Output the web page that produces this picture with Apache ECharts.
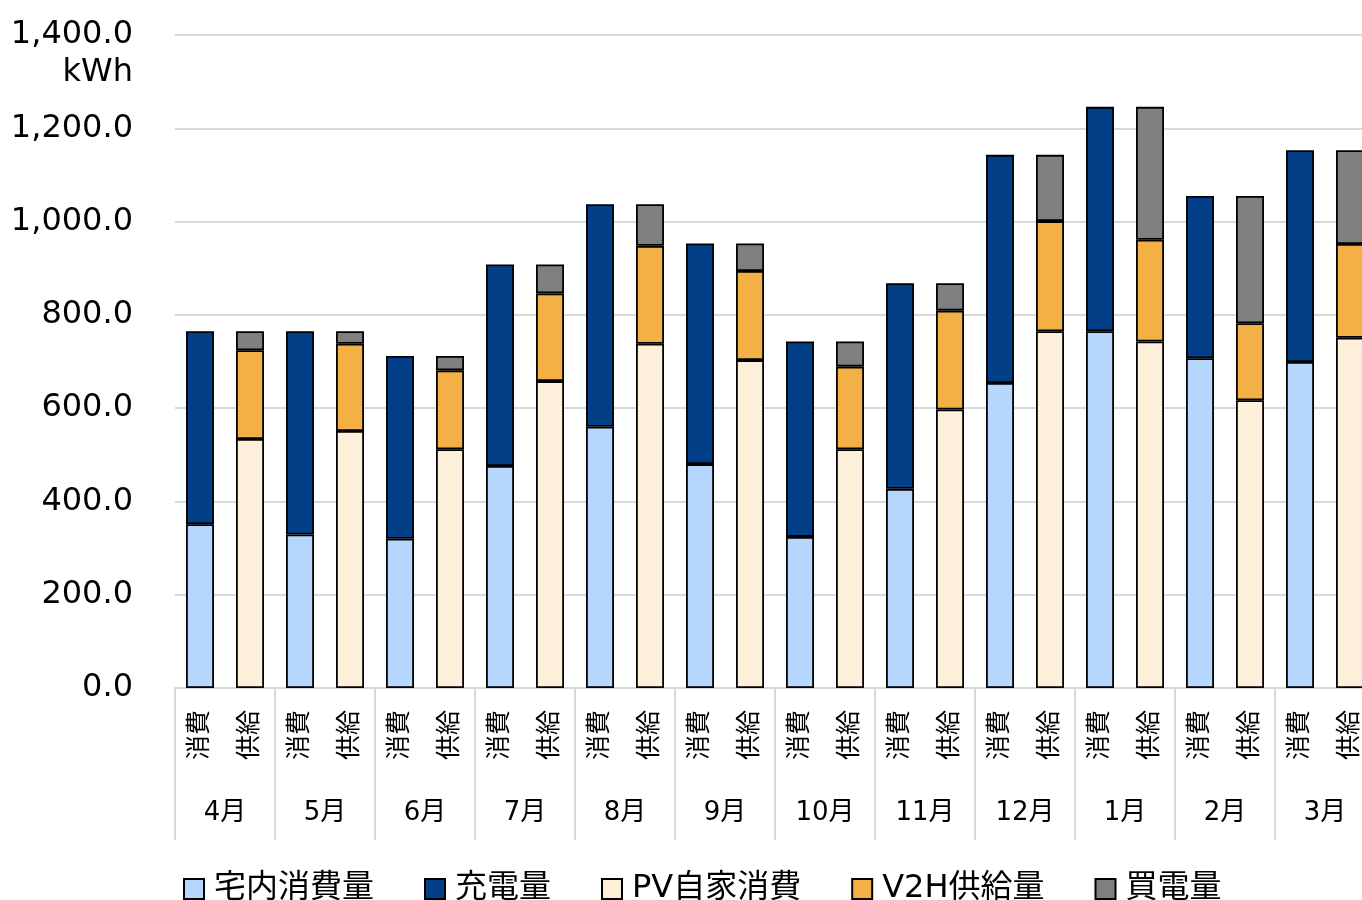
<!DOCTYPE html>
<html lang="ja">
<head>
<meta charset="utf-8">
<title>月別 電力量</title>
<script src="https://cdn.jsdelivr.net/npm/echarts@6/dist/echarts.min.js"></script>
<style>
  html, body { margin: 0; padding: 0; background: #ffffff; overflow: hidden; }
  #chart { width: 1400px; height: 900px; }
</style>
</head>
<body>
<div id="chart"></div>
<script>
// Months (fiscal year, April to March)
const months = ['4月', '5月', '6月', '7月', '8月', '9月', '10月', '11月', '12月', '1月', '2月', '3月'];
// Two bars per month: consumption side and supply side
const sideLabels = ['消費', '供給'];

// Consumption side (kWh)
const homeUse   = [351, 329, 320, 476, 560, 480, 324, 427, 654, 765, 707, 699]; // 宅内消費量
const charging  = [414, 436, 392, 432, 477, 473, 419, 441, 489, 481, 348, 454]; // 充電量
// Supply side (kWh)
const pvSelf    = [534, 551, 512, 658, 738, 703, 512, 597, 765, 743, 617, 751]; // PV自家消費
const v2hSupply = [190, 187, 169, 188, 210, 191, 177, 212, 236, 218, 165, 201]; // V2H供給量
const purchased = [ 41,  27,  31,  62,  89,  59,  54,  59, 142, 285, 273, 201]; // 買電量

// Y axis range
const yMin = 0, yMax = 1400, yStep = 200;

// Expand monthly values onto the 24 slots (消費 / 供給 alternate)
const innerCats = [];
months.forEach(() => sideLabels.forEach(s => innerCats.push(s)));
function onSide(values, sideIdx) {
  const out = [];
  values.forEach(v => {
    for (let i = 0; i < sideLabels.length; i++) out.push(i === sideIdx ? v : '-');
  });
  return out;
}

const FONT = '"DejaVu Sans", "Noto Sans CJK JP", sans-serif';
const GRID_COLOR = '#D9D9D9';

function barSeries(name, color, data) {
  return {
    name: name,
    type: 'bar',
    stack: 'energy',
    xAxisIndex: 0,
    barWidth: 28,
    data: data,
    itemStyle: { color: color, borderColor: '#000000', borderWidth: 1.8 },
    emphasis: { disabled: true }
  };
}

const chart = echarts.init(document.getElementById('chart'), null, { renderer: 'canvas' });
chart.setOption({
  animation: false,
  textStyle: { fontFamily: FONT, color: '#000000' },
  grid: { left: 175, top: 35, width: 1200, height: 653, containLabel: false },
  legend: {
    left: 183,
    top: 873,
    padding: 0,
    itemWidth: 20,
    itemHeight: 20,
    itemGap: 50,
    icon: 'rect',
    textStyle: { fontSize: 32, fontFamily: FONT, color: '#000000', padding: [0, 0, 0, 5] },
    data: ['宅内消費量', '充電量', 'PV自家消費', 'V2H供給量', '買電量']
  },
  xAxis: [
    {
      type: 'category',
      position: 'bottom',
      data: innerCats,
      axisLine: { show: true, lineStyle: { color: GRID_COLOR, width: 2 } },
      axisTick: { show: false },
      axisLabel: { interval: 0, rotate: 90, fontSize: 25, margin: 22, color: '#000000', fontFamily: FONT }
    },
    {
      type: 'category',
      position: 'bottom',
      data: months,
      axisLine: { show: false },
      axisTick: { show: true, interval: 0, length: 152, lineStyle: { color: GRID_COLOR, width: 2 } },
      axisLabel: { interval: 0, fontSize: 26, margin: 112, color: '#000000', fontFamily: FONT }
    }
  ],
  yAxis: {
    type: 'value',
    min: yMin,
    max: yMax,
    interval: yStep,
    name: 'kWh',
    nameLocation: 'end',
    nameGap: -38,
    nameTextStyle: { fontSize: 32, color: '#000000', fontFamily: FONT, align: 'right', verticalAlign: 'middle', padding: [0, 42, 0, 0] },
    axisLine: { show: false },
    axisTick: { show: false },
    splitLine: { lineStyle: { color: GRID_COLOR, width: 2 } },
    axisLabel: {
      fontSize: 32,
      margin: 42,
      color: '#000000',
      fontFamily: FONT,
      padding: [0, 0, 12, 0],
      formatter: v => v.toLocaleString('en-US', { minimumFractionDigits: 1, maximumFractionDigits: 1 })
    }
  },
  series: [
    barSeries('宅内消費量', '#B5D6FD', onSide(homeUse, 0)),
    barSeries('充電量', '#023F87', onSide(charging, 0)),
    barSeries('PV自家消費', '#FDEFDA', onSide(pvSelf, 1)),
    barSeries('V2H供給量', '#F2B045', onSide(v2hSupply, 1)),
    barSeries('買電量', '#7F7F7F', onSide(purchased, 1))
  ]
});
</script>
</body>
</html>
